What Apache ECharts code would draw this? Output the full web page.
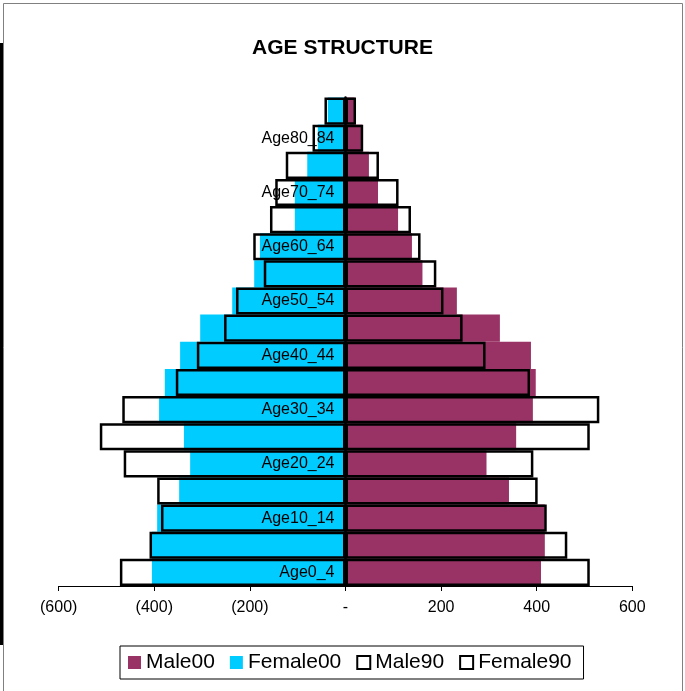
<!DOCTYPE html>
<html>
<head>
<meta charset="utf-8">
<script src="https://cdn.jsdelivr.net/npm/echarts@6/dist/echarts.min.js"></script>
<style>
  html, body { margin: 0; padding: 0; background: #fff; }
  #echarts { width: 685px; height: 691px; }
</style>
</head>
<body>
<div id="echarts"></div>
<script>
// age groups, bottom to top
var categories = ['Age0_4', 'Age5_9', 'Age10_14', 'Age15_19', 'Age20_24', 'Age25_29',
  'Age30_34', 'Age35_39', 'Age40_44', 'Age45_49', 'Age50_54', 'Age55_59',
  'Age60_64', 'Age65_69', 'Age70_74', 'Age75_79', 'Age80_84', 'Age85+'];

var male00   = [409, 417, 417, 342, 295, 357, 392, 398, 388, 323, 233, 161, 139, 110, 68, 49, 35, 19];
var female00 = [405, 405, 394, 348, 325, 338, 390, 378, 346, 304, 237, 191, 179, 106, 106, 80, 58, 37];
var male90   = [511, 464, 421, 402, 393, 511, 531, 386, 293, 245, 205, 190, 157, 137, 111, 70, 37, 22];
var female90 = [472, 410, 386, 394, 464, 514, 467, 355, 311, 254, 229, 171, 193, 158, 147, 125, 69, 44];

var xTicks = [-600, -400, -200, 0, 200, 400, 600];

function neg(arr) {
  return arr.map(function (v) { return -v; });
}

function tickLabel(v) {
  if (v === 0) return '-';
  if (v < 0) return '(' + (-v) + ')';
  return '' + v;
}

var W = 685;
var gridLeft = 58.7, gridRight = 52.7;
var xMin = xTicks[0], xMax = xTicks[xTicks.length - 1];
// push the category axis (line + labels) over to value 0
var zeroOffset = (W - gridLeft - gridRight) * (0 - xMin) / (xMax - xMin);

var myChart = echarts.init(document.getElementById('echarts'));

var outline = {
  color: 'rgba(0,0,0,0)',
  borderColor: '#000',
  borderWidth: 2.5
};

var option = {
  animation: false,
  backgroundColor: '#fff',
  textStyle: { fontFamily: 'Liberation Sans, Arial, sans-serif' },
  title: {
    text: 'AGE STRUCTURE',
    left: 'center',
    top: 33,
    textStyle: { fontSize: 21, fontWeight: 'bold', color: '#000' }
  },
  grid: {
    left: gridLeft, right: gridRight, top: 97.5, bottom: 105,
    containLabel: false, outerBoundsMode: 'none'
  },
  xAxis: {
    type: 'value',
    min: xMin,
    max: xMax,
    interval: 200,
    splitLine: { show: false },
    axisLine: { show: true, onZero: false, lineStyle: { color: '#000', width: 1 } },
    axisTick: { show: true, length: 5, lineStyle: { color: '#000' } },
    axisLabel: { formatter: tickLabel, fontSize: 16, color: '#000', margin: 14 }
  },
  yAxis: {
    type: 'category',
    data: categories,
    z: 10,
    offset: -zeroOffset,
    axisLine: { onZero: false, lineStyle: { color: '#000', width: 2.5 } },
    axisTick: { show: false },
    axisLabel: { interval: 1, fontSize: 16, color: '#000', margin: 11 }
  },
  legend: {
    data: [
      { name: 'Male00' },
      { name: 'Female00' },
      { name: 'Male90', itemStyle: { color: '#fff', borderColor: '#000', borderWidth: 2 } },
      { name: 'Female90', itemStyle: { color: '#fff', borderColor: '#000', borderWidth: 2 } }
    ],
    left: 120,
    top: 646,
    icon: 'rect',
    itemWidth: 13,
    itemHeight: 13,
    itemGap: 15,
    padding: [6, 12, 6, 8],
    borderColor: '#000',
    borderWidth: 1,
    textStyle: { fontSize: 21, color: '#000' }
  },
  series: [
    {
      name: 'Male00', type: 'bar', data: male00,
      barCategoryGap: 0, barGap: '-100%',
      itemStyle: { color: '#993366' }
    },
    {
      name: 'Female00', type: 'bar', data: neg(female00),
      barCategoryGap: 0, barGap: '-100%',
      itemStyle: { color: '#00CCFF' }
    },
    {
      name: 'Male90', type: 'bar', data: male90,
      barCategoryGap: 0, barGap: '-100%',
      itemStyle: outline
    },
    {
      name: 'Female90', type: 'bar', data: neg(female90),
      barCategoryGap: 0, barGap: '-100%',
      itemStyle: outline
    }
  ],
  graphic: [
    { type: 'rect', shape: { x: 3.5, y: 3.5, width: 679, height: 700 },
      style: { fill: 'none', stroke: '#808080', lineWidth: 1 }, silent: true },
    { type: 'rect', shape: { x: 0, y: 43, width: 3, height: 602 },
      style: { fill: '#000' }, silent: true }
  ]
};

myChart.setOption(option);
</script>
</body>
</html>
